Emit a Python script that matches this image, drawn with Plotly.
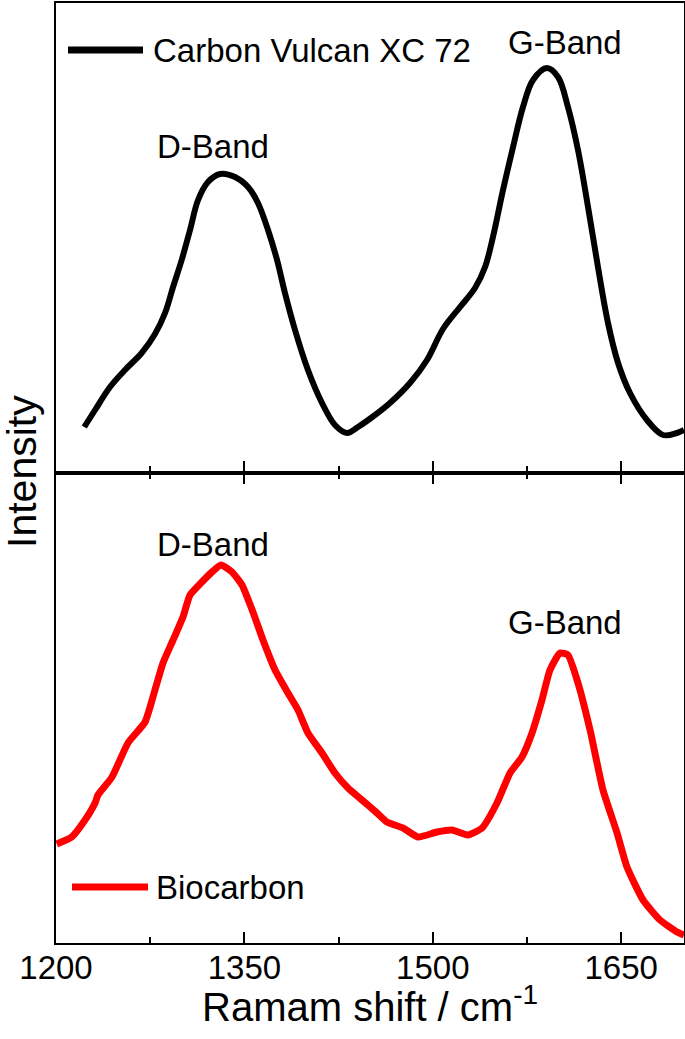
import plotly.graph_objects as go

# Carbon Vulcan XC 72 (top panel), arbitrary intensity
vulcan_x = [1222.5, 1231.1, 1243.0, 1254.9, 1268.2, 1278.8, 1286.8, 1293.2, 1300.3, 1306.7,
            1313.1, 1321.0, 1330.6, 1342.5, 1352.9, 1360.8, 1368.8, 1376.0, 1382.3, 1390.3,
            1400.6, 1411.8, 1422.1, 1431.7, 1440.4, 1454.0, 1465.9, 1481.8, 1495.4, 1508.1,
            1521.7, 1533.6, 1541.6, 1547.9, 1555.9, 1563.9, 1571.8, 1579.8, 1590.9, 1599.7,
            1607.6, 1615.6, 1623.6, 1631.5, 1639.5, 1647.5, 1657.0, 1670.5, 1683.3, 1694.4, 1700.0]
vulcan_y = [46, 63, 86, 103, 120, 139, 160, 186, 214, 243,
            273, 291, 299, 296, 286, 270, 243, 213, 180, 143,
            103, 70, 48, 40, 46, 58, 70, 90, 113, 144,
            166, 185, 206, 236, 283, 326, 366, 393, 405, 396,
            366, 323, 266, 206, 150, 110, 80, 53, 38, 40, 43]

# Biocarbon (bottom panel), arbitrary intensity
bio_x = [1200.6, 1212.5, 1223.1, 1231.1, 1233.4, 1244.6, 1257.3, 1270.9, 1278.8, 1285.2,
         1293.2, 1301.1, 1306.7, 1316.2, 1324.2, 1331.4, 1340.1, 1348.1, 1356.8, 1364.8,
         1374.4, 1384.7, 1392.7, 1400.6, 1411.8, 1422.1, 1432.5, 1443.6, 1455.6, 1463.5,
         1476.3, 1488.2, 1503.3, 1515.3, 1528.0, 1539.2, 1551.1, 1561.5, 1571.0, 1579.0,
         1586.9, 1593.3, 1601.3, 1607.6, 1615.6, 1625.2, 1635.5, 1646.7, 1654.6, 1667.4,
         1680.9, 1694.4, 1700.0]
bio_y = [99, 106, 123, 140, 148, 166, 200, 221, 253, 280,
         303, 326, 348, 361, 371, 378, 371, 358, 331, 303,
         273, 250, 233, 210, 190, 170, 155, 143, 130, 121,
         115, 106, 111, 113, 108, 115, 140, 170, 186, 210,
         243, 273, 290, 288, 260, 213, 153, 110, 76, 43,
         23, 11, 8]

x_ticks = [1200, 1350, 1500, 1650]
x_minor_ticks = [1275, 1425, 1575]
x_title = "Ramam shift / cm<sup>-1</sup>"
y_title = "Intensity"
series_names = ["Carbon Vulcan XC 72", "Biocarbon"]
band_labels = ["D-Band", "G-Band"]

FONT = "Liberation Sans, Arial, sans-serif"

fig = go.Figure()
fig.add_trace(go.Scatter(x=vulcan_x, y=vulcan_y, mode="lines", name=series_names[0],
                         line=dict(color="black", width=6, shape="spline", smoothing=1.0),
                         xaxis="x2", yaxis="y2", showlegend=False))
fig.add_trace(go.Scatter(x=bio_x, y=bio_y, mode="lines", name=series_names[1],
                         line=dict(color="#ff0000", width=7, shape="spline", smoothing=0.5),
                         xaxis="x", yaxis="y", showlegend=False))

axis_common = dict(showline=True, linecolor="black", linewidth=2, showgrid=False, zeroline=False)

fig.update_layout(
    width=685, height=1039, autosize=False,
    margin=dict(l=56, r=1, t=3, b=96, autoexpand=False),
    paper_bgcolor="white", plot_bgcolor="white",
    font=dict(family=FONT, color="black"),
    xaxis=dict(**axis_common, domain=[0, 1], anchor="y", range=[1200, 1700],
               tickmode="array", tickvals=x_ticks, ticks="inside", ticklen=11, tickwidth=2,
               tickcolor="black", mirror="ticks", automargin=False,
               minor=dict(tickvals=x_minor_ticks, ticks="inside", ticklen=6,
                          tickwidth=2, tickcolor="black"),
               tickfont=dict(size=33, family=FONT), ticklabelstandoff=-6),
    xaxis2=dict(**axis_common, domain=[0, 1], anchor="y2", range=[1200, 1700], matches="x",
                tickmode="array", tickvals=x_ticks, ticks="inside", ticklen=12, tickwidth=2,
                tickcolor="black", showticklabels=False, mirror=True, automargin=False,
                minor=dict(tickvals=x_minor_ticks, ticks="inside", ticklen=7,
                           tickwidth=2, tickcolor="black")),
    yaxis=dict(**axis_common, domain=[0, 0.5], anchor="x", range=[0, 470],
               showticklabels=False, ticks="", mirror=True, automargin=False),
    yaxis2=dict(**axis_common, domain=[0.5, 1], anchor="x2", range=[0, 470],
                showticklabels=False, ticks="", mirror=True, automargin=False),
)

def px2paper_x(px):
    return (px - 56) / 628.0

def py2paper_y(py):
    return (943 - py) / 940.0

# legend samples
fig.add_shape(type="line", xref="paper", yref="paper",
              x0=px2paper_x(68), x1=px2paper_x(143), y0=py2paper_y(50), y1=py2paper_y(50),
              line=dict(color="black", width=7))
fig.add_shape(type="line", xref="paper", yref="paper",
              x0=px2paper_x(72), x1=px2paper_x(148), y0=py2paper_y(887), y1=py2paper_y(887),
              line=dict(color="#ff0000", width=7))

annotations = [
    dict(text=series_names[0], xref="paper", yref="paper", x=px2paper_x(151), y=py2paper_y(50),
         xanchor="left", yanchor="middle", font=dict(size=33, family=FONT), showarrow=False),
    dict(text=series_names[1], xref="paper", yref="paper", x=px2paper_x(154), y=py2paper_y(887),
         xanchor="left", yanchor="middle", font=dict(size=33, family=FONT), showarrow=False),
    dict(text=band_labels[0], xref="x2", yref="y2", x=1325, y=327,
         xanchor="center", yanchor="middle", font=dict(size=33, family=FONT), showarrow=False),
    dict(text=band_labels[1], xref="x2", yref="y2", x=1605, y=431,
         xanchor="center", yanchor="middle", font=dict(size=33, family=FONT), showarrow=False),
    dict(text=band_labels[0], xref="x", yref="y", x=1325, y=399,
         xanchor="center", yanchor="middle", font=dict(size=33, family=FONT), showarrow=False),
    dict(text=band_labels[1], xref="x", yref="y", x=1605, y=321,
         xanchor="center", yanchor="middle", font=dict(size=33, family=FONT), showarrow=False),
    dict(text=y_title, xref="paper", yref="paper", x=px2paper_x(22), y=py2paper_y(472),
         xanchor="center", yanchor="middle", textangle=-90,
         font=dict(size=41, family=FONT), showarrow=False),
    dict(text=x_title, xref="paper", yref="paper", x=px2paper_x(370), y=py2paper_y(1004),
         xanchor="center", yanchor="middle",
         font=dict(size=40, family=FONT), showarrow=False),
]
fig.update_layout(annotations=annotations)

post = ("document.documentElement.style.margin='0';document.body.style.margin='0';"
        "document.documentElement.style.overflow='hidden';document.body.style.overflow='hidden';")
fig.write_html("out.html", config={"responsive": False, "displayModeBar": False},
               post_script=post, default_width="685px", default_height="1039px")
